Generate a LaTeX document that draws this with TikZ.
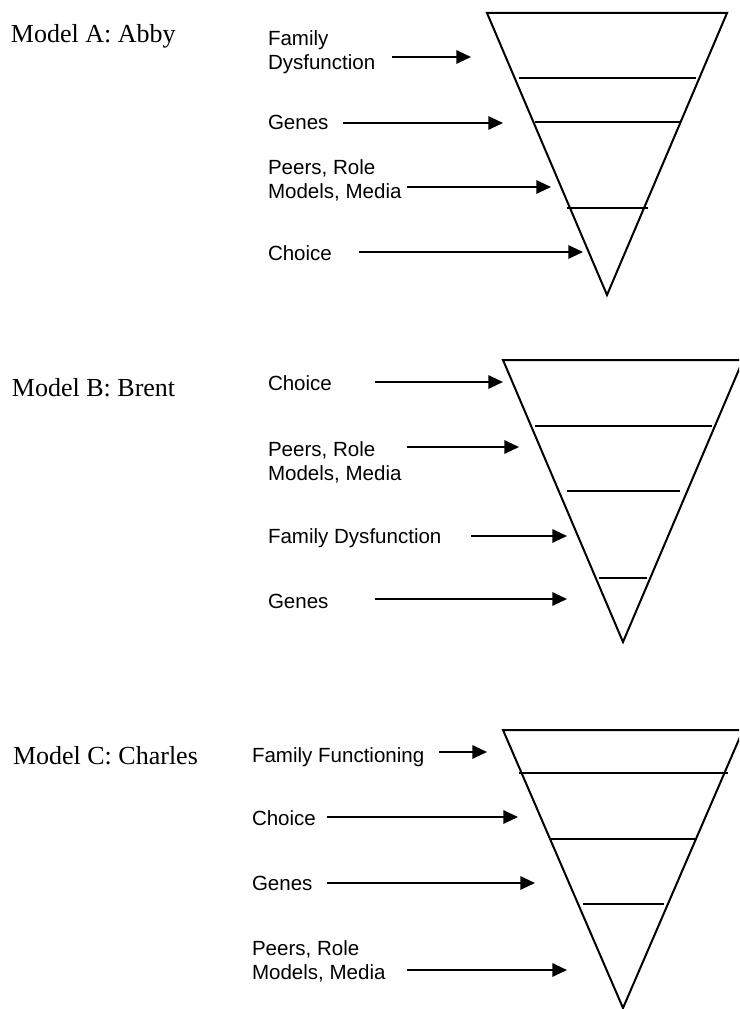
\documentclass[tikz,border=0pt]{standalone}
\usepackage{fontspec}
\setmainfont{Liberation Serif}
\setsansfont{Liberation Sans}
\usetikzlibrary{arrows.meta,positioning}

\begin{document}
\begin{tikzpicture}[x=0.75pt, y=-0.75pt, line width=1.5pt,
	every node/.style={font=\sffamily\fontsize{15.4}{18}\selectfont, inner sep=0pt, anchor=base west, align=left},
	model/.style={font=\rmfamily\fontsize{19.5}{22}\selectfont},
	push/.style={-{Triangle[length=11pt, width=10pt]}}]
			\path[use as bounding box, clip] (0,0) rectangle (739,1009);
			
			\node[model] (ma) at (10,43) {Model A: Abby};
			\node (a1) at (267,70) {Family\\Dysfunction};
			\node (a2) at (267,130) {Genes};
			\node (a3) at (267,199) {Peers, Role\\Models, Media};
			\node (a4) at (267,260) {Choice};
			\coordinate (a1s) at (392,57);  \coordinate (a1e) at (471,57);
			\coordinate (a2s) at (343,123); \coordinate (a2e) at (503,123);
			\coordinate (a3s) at (407,187); \coordinate (a3e) at (551,187);
			\coordinate (a4s) at (359,252); \coordinate (a4e) at (583,252);
			\draw[push] (a1s) -- (a1e);
			\draw[push] (a2s) -- (a2e);
			\draw[push] (a3s) -- (a3e);
			\draw[push] (a4s) -- (a4e);
			\draw (487,13) -- (727,13) -- (607,295) -- cycle;
			\draw (519,78) -- (696,78);
			\draw (535,122) -- (680,122);
			\draw (567,208) -- (648,208);
			
			\node[model] (mb) at (11,396) {Model B: Brent};
			\node (b1) at (267,390) {Choice};
			\node (b2) at (267,480) {Peers, Role\\Models, Media};
			\node (b3) at (267,543) {Family Dysfunction};
			\node (b4) at (267,608) {Genes};
			\coordinate (b1s) at (375,382); \coordinate (b1e) at (503,382);
			\coordinate (b2s) at (407,447); \coordinate (b2e) at (519,447);
			\coordinate (b3s) at (471,536); \coordinate (b3e) at (567,536);
			\coordinate (b4s) at (375,599); \coordinate (b4e) at (567,599);
			\draw[push] (b1s) -- (b1e);
			\draw[push] (b2s) -- (b2e);
			\draw[push] (b3s) -- (b3e);
			\draw[push] (b4s) -- (b4e);
			\draw (503,360) -- (743,360) -- (623,642) -- cycle;
			\draw (535,426) -- (712,426);
			\draw (567,491) -- (680,491);
			\draw (599,578) -- (647,578);
			
			\node[model] (mc) at (12,764) {Model C: Charles};
			\node (c1) at (251,762) {Family Functioning};
			\node (c2) at (251,825) {Choice};
			\node (c3) at (251,890) {Genes};
			\node (c4) at (251,979) {Peers, Role\\Models, Media};
			\coordinate (c1s) at (439,752); \coordinate (c1e) at (487,752);
			\coordinate (c2s) at (327,817); \coordinate (c2e) at (518,817);
			\coordinate (c3s) at (327,883); \coordinate (c3e) at (535,883);
			\coordinate (c4s) at (407,970); \coordinate (c4e) at (567,970);
			\draw[push] (c1s) -- (c1e);
			\draw[push] (c2s) -- (c2e);
			\draw[push] (c3s) -- (c3e);
			\draw[push] (c4s) -- (c4e);
			\draw (503,730) -- (743,730) -- (623,1008) -- cycle;
			\draw (519,773) -- (728,773);
			\draw (551,839) -- (697,839);
			\draw (583,904) -- (664,904);
		\end{tikzpicture}
\end{document}
